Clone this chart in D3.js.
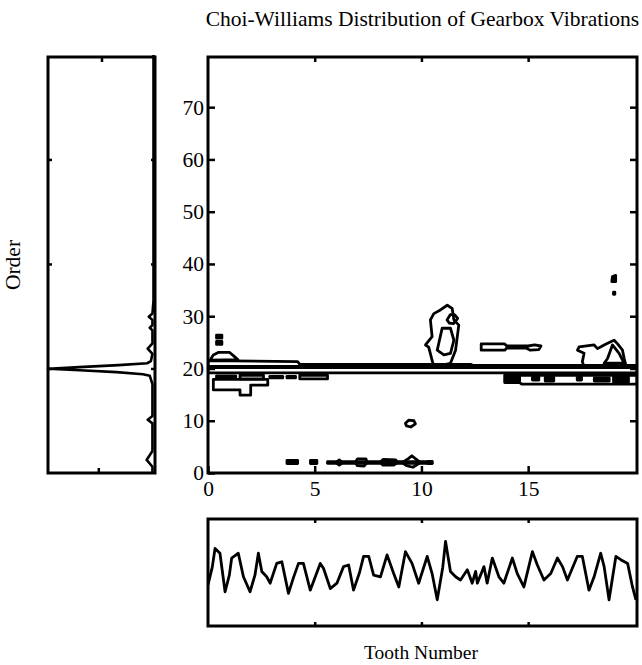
<!DOCTYPE html>
<html><head><meta charset="utf-8">
<script src="https://cdn.jsdelivr.net/npm/d3@7"></script>
<style>body{margin:0;background:#fff}svg{display:block}text{font-family:"Liberation Serif","Times New Roman",serif;fill:#000}</style>
</head><body>
<svg id="c" width="642" height="665"></svg>
<script>
// ---------- data ----------
const titleText = "Choi-Williams Distribution of Gearbox Vibrations";
const xLabel = "Tooth Number";
const yLabel = "Order";
const xTicks = [0, 5, 10, 15];
const yTicks = [0, 10, 20, 30, 40, 50, 60, 70];
const marginalYTicks = [20, 40, 60];

// marginal (order -> summed energy, normalised)
const marginalOrder = [0, 1.2, 2.5, 4.2, 9.5, 10.2, 10.9, 17.0, 18.6, 18.9, 19.3, 19.65, 19.95, 20.3, 20.65, 21.0, 21.4, 22.8, 23.8, 24.8, 27.3, 27.8, 28.3, 29.3, 29.9, 30.5, 33, 80];
const marginalValue = [0.01, 0.01, 0.065, 0.01, 0.01, 0.055, 0.01, 0.01, 0.035, 0.1, 0.35, 0.7, 1.0, 0.66, 0.33, 0.06, 0.025, 0.01, 0.055, 0.01, 0.01, 0.035, 0.01, 0.01, 0.045, 0.01, 0.0, 0.0];

// time signal
const signalTooth = [0, 0.2, 0.33, 0.56, 0.80, 1.0, 1.11, 1.42, 1.66, 1.97, 2.2, 2.36, 2.52, 2.75, 2.91, 3.22, 3.46, 3.77, 4.0, 4.24, 4.47, 4.79, 5.26, 5.41, 5.73, 6.04, 6.35, 6.59, 6.82, 7.1, 7.29, 7.53, 7.76, 8.08, 8.39, 8.70, 8.94, 9.25, 9.56, 9.87, 10.27, 10.50, 10.74, 11.0, 11.13, 11.36, 11.60, 11.83, 12.15, 12.38, 12.54, 12.62, 12.93, 13.08, 13.32, 13.63, 13.86, 14.26, 14.49, 14.80, 15.20, 15.43, 15.74, 16.06, 16.37, 16.61, 16.84, 17.30, 17.54, 17.85, 18.09, 18.40, 18.56, 18.79, 19.11, 19.34, 19.66, 19.89, 20.05];
const signalValue = [-0.23, 0.1, 0.45, 0.36, -0.36, -0.05, 0.27, 0.36, -0.08, -0.36, -0.05, 0.36, 0.02, -0.08, -0.20, 0.17, 0.20, -0.39, -0.1, 0.17, 0.17, -0.33, 0.17, 0.08, -0.30, -0.20, 0.11, 0.14, -0.33, 0.0, 0.30, 0.30, -0.05, -0.08, 0.33, -0.02, -0.27, 0.39, 0.17, -0.20, 0.30, -0.02, -0.51, 0.1, 0.58, 0.02, -0.08, -0.14, 0.05, -0.20, 0.02, -0.20, 0.11, -0.20, 0.27, -0.08, -0.20, 0.27, -0.02, -0.27, 0.39, 0.14, -0.14, -0.02, 0.27, 0.11, -0.14, 0.30, 0.30, -0.33, -0.08, 0.36, 0.11, -0.51, 0.30, 0.24, 0.17, -0.27, -0.51];

// contour loops: [tooth, order] vertices
const contourBand = [
  [[0,21.5],[4.2,21.3],[4.3,20.8],[12.3,20.8],[12.4,20.6],[20.1,20.6],[20.1,19.15],[0,19.15]],
  [[0,20.4],[20.1,20.4],[20.1,20.15],[0,20.15]]
];
const contourLeft = [
  [[0.1,21.6],[0.25,22.6],[0.5,23.1],[1.0,23.1],[1.2,22.4],[1.4,21.7]],
  [[0.25,17.9],[0.25,15.9],[1.5,15.9],[1.5,14.9],[2.0,14.9],[2.0,16.8],[2.8,16.8],[2.8,17.9]],
  [[0.4,18.6],[1.3,18.6],[1.3,18.1],[0.4,18.1]],
  [[1.5,18.7],[2.6,18.7],[2.6,18.0],[1.5,18.0]],
  [[2.9,18.5],[3.5,18.5],[3.5,18.2],[2.9,18.2]],
  [[3.7,18.5],[4.1,18.5],[4.1,18.2],[3.7,18.2]],
  [[4.3,18.7],[5.6,18.7],[5.6,18.0],[4.3,18.0]]
];
const contourLeftBlobs = [
  [[0.4,25.8],[0.65,25.8],[0.65,26.4],[0.4,26.4]],
  [[0.4,24.6],[0.65,24.6],[0.65,25.2],[0.4,25.2]]
];
const contourMid = [
  [[10.58,20.3],[10.34,24.1],[10.19,24.5],[10.50,26.1],[10.42,29.3],[10.58,30.5],[10.89,31.2],[11.21,32.1],[11.44,31.5],[11.52,29.3],[11.75,28.3],[11.68,26.1],[11.60,23.5],[11.36,21.0]],
  [[10.74,23.5],[10.97,27.7],[11.36,27.7],[11.52,25.4],[11.36,22.9],[11.05,22.6]],
  [[11.2,29.3],[11.35,30.3],[11.55,30.3],[11.7,29.6],[11.5,28.6],[11.3,28.7]],
  [[9.25,9.5],[9.4,10.1],[9.65,10.0],[9.72,9.4],[9.5,8.8],[9.3,9.0]]
];
const contourRight = [
  [[12.8,24.7],[13.9,24.7],[14.0,24.3],[15.0,24.3],[15.3,24.5],[15.6,24.3],[15.5,23.6],[15.1,23.5],[14.9,23.9],[14.0,23.9],[13.9,23.5],[12.8,23.5]],
  [[17.39,24.15],[18.09,24.5],[18.25,23.8],[18.56,24.5],[18.87,25.1],[19.03,25.4],[19.19,24.7],[19.42,23.5],[19.50,21.9],[19.58,20.6],[17.62,20.3],[17.54,21.3],[17.62,22.9],[17.31,23.5]],
  [[18.95,24.5],[18.72,21.9],[18.56,21.0],[19.5,21.0],[19.26,22.9]],
  [[13.9,18.7],[13.9,17.3],[14.6,17.3],[14.7,17.0],[20.1,17.0],[20.1,18.7]]
];
const contourRightBlobs = [
  [[13.95,17.6],[14.6,17.6],[14.6,18.4],[13.95,18.4]],
  [[15.2,17.8],[15.5,17.8],[15.5,18.3],[15.2,18.3]],
  [[15.8,17.6],[16.2,17.6],[16.2,18.3],[15.8,18.3]],
  [[17.3,17.8],[17.5,17.8],[17.5,18.3],[17.3,18.3]],
  [[18.1,17.6],[18.8,17.6],[18.8,18.2],[18.1,18.2]],
  [[19.0,17.4],[19.7,17.4],[19.7,18.4],[19.0,18.4]],
  [[18.92,36.6],[19.1,36.6],[19.1,37.8],[18.95,37.6]],
  [[19.0,34.2],[19.06,34.2],[19.06,34.6],[19.0,34.6]]
];
const contourLow = [
  [[5.6,2.15],[10.5,2.15],[10.5,1.85],[5.6,1.85]],
  [[6.0,2.0],[6.15,2.5],[6.3,2.0],[6.15,1.5]],
  [[6.9,2.0],[7.0,2.7],[7.4,2.7],[7.46,2.0],[7.3,1.3],[7.0,1.4]],
  [[8.07,2.0],[8.2,2.6],[8.8,2.5],[8.87,2.0],[8.7,1.5],[8.2,1.5]],
  [[9.1,2.0],[9.4,2.8],[9.55,3.3],[9.7,2.8],[9.95,2.0],[9.6,1.1],[9.3,1.4]]
];
const contourLowBlobs = [
  [[3.7,1.8],[4.2,1.8],[4.2,2.4],[3.7,2.4]],
  [[4.8,1.8],[5.1,1.8],[5.1,2.4],[4.8,2.4]],
  [[10.3,1.8],[10.5,1.8],[10.5,2.2],[10.3,2.2]]
];

// ---------- drawing ----------
const svg = d3.select("#c");
const FS = 21.5;

// main panel
const x = d3.scaleLinear().domain([0, 20.1]).range([208, 637]);
const y = d3.scaleLinear().domain([0, 79.6]).range([473, 57]);

svg.append("clipPath").attr("id","mainClip").append("rect")
  .attr("x", x(0)).attr("y", y(79.6)).attr("width", x(20.1)-x(0)).attr("height", y(0)-y(79.6));

const line = d3.line().x(d => x(d[0])).y(d => y(d[1]));
const g = svg.append("g").attr("clip-path","url(#mainClip)");
function loops(data, filled){
  g.selectAll(null).data(data).enter().append("path")
    .attr("d", d => line(d) + "Z")
    .attr("fill", filled ? "#000" : "none")
    .attr("stroke", "#000").attr("stroke-width", 2.8)
    .attr("stroke-linejoin","round");
}
loops(contourBand, false);
loops(contourLeft, false);
loops(contourLeftBlobs, true);
loops(contourMid, false);
loops(contourRight, false);
loops(contourRightBlobs, true);
loops(contourLow, false);
loops(contourLowBlobs, true);

function frame(x0, y0, x1, y1){
  svg.append("rect").attr("x", x0).attr("y", y0).attr("width", x1-x0).attr("height", y1-y0)
    .attr("fill","none").attr("stroke","#000").attr("stroke-width", 3);
}
frame(x(0), y(79.6), x(20.1), y(0));

function styleAxis(sel, showText){
  sel.select(".domain").remove();
  sel.selectAll(".tick line").attr("stroke","#000").attr("stroke-width",2.5);
  sel.selectAll(".tick text").attr("font-size", FS).attr("font-family","Liberation Serif, serif");
  if(!showText) sel.selectAll(".tick text").remove();
}
svg.append("g").attr("transform",`translate(${x(0)},0)`)
  .call(d3.axisLeft(y).tickValues(yTicks).tickSize(-7).tickPadding(4)).call(s=>styleAxis(s,true));
svg.append("g").attr("transform",`translate(${x(20.1)},0)`)
  .call(d3.axisRight(y).tickValues(yTicks.slice(1)).tickSize(-7)).call(s=>styleAxis(s,false));
svg.append("g").attr("transform",`translate(0,${y(0)})`)
  .call(d3.axisBottom(x).tickValues(xTicks).tickSize(-7).tickPadding(8)).call(s=>styleAxis(s,true));
svg.append("g").attr("transform",`translate(0,${y(79.6)})`)
  .call(d3.axisTop(x).tickValues(xTicks.slice(1)).tickSize(-5)).call(s=>styleAxis(s,false));

// left marginal panel
const mx = d3.scaleLinear().domain([0, 1]).range([153.5, 48]);
const mLine = d3.line().x((d,i) => mx(marginalValue[i])).y(d => y(d));
svg.append("path").attr("d", mLine(marginalOrder))
  .attr("fill","none").attr("stroke","#000").attr("stroke-width",2.6).attr("stroke-linejoin","round");
frame(48, y(79.6), 155, y(0));
svg.append("g").attr("transform","translate(48,0)")
  .call(d3.axisLeft(y).tickValues(marginalYTicks).tickSize(-4)).call(s=>styleAxis(s,false));
svg.append("g").attr("transform","translate(155,0)")
  .call(d3.axisRight(y).tickValues(marginalYTicks).tickSize(-4)).call(s=>styleAxis(s,false));
const mTickX = d3.scaleLinear().domain([0, 1]).range([48, 155]);
svg.append("g").attr("transform",`translate(0,${y(79.6)})`)
  .call(d3.axisTop(mTickX).tickValues([0.5]).tickSize(-5)).call(s=>styleAxis(s,false));
svg.append("g").attr("transform",`translate(0,${y(0)})`)
  .call(d3.axisBottom(mTickX).tickValues([0.47]).tickSize(-5)).call(s=>styleAxis(s,false));

// bottom signal panel
const sy = d3.scaleLinear().domain([-1, 1]).range([626, 519]);
const sLine = d3.line().x((d,i) => x(d)).y((d,i) => sy(signalValue[i]));
svg.append("clipPath").attr("id","sigClip").append("rect")
  .attr("x", x(0)).attr("y", 519).attr("width", x(20.1)-x(0)).attr("height", 107);
svg.append("path").attr("d", sLine(signalTooth)).attr("clip-path","url(#sigClip)")
  .attr("fill","none").attr("stroke","#000").attr("stroke-width",2.8).attr("stroke-linejoin","round");
frame(x(0), 519, x(20.1), 626);
svg.append("g").attr("transform","translate(0,519)")
  .call(d3.axisTop(x).tickValues(xTicks.slice(1)).tickSize(-4)).call(s=>styleAxis(s,false));
svg.append("g").attr("transform","translate(0,626)")
  .call(d3.axisBottom(x).tickValues(xTicks.slice(1)).tickSize(-4)).call(s=>styleAxis(s,false));

// texts
svg.append("text").attr("x", 639).attr("y", 26).attr("text-anchor","end")
  .attr("font-size", FS).text(titleText);
svg.append("text").attr("x", 421).attr("y", 659).attr("text-anchor","middle")
  .attr("font-size", 19.5).text(xLabel);
svg.append("text").attr("transform","translate(20,265) rotate(-90)").attr("text-anchor","middle")
  .attr("font-size", FS).text(yLabel);
</script>
</body></html>
